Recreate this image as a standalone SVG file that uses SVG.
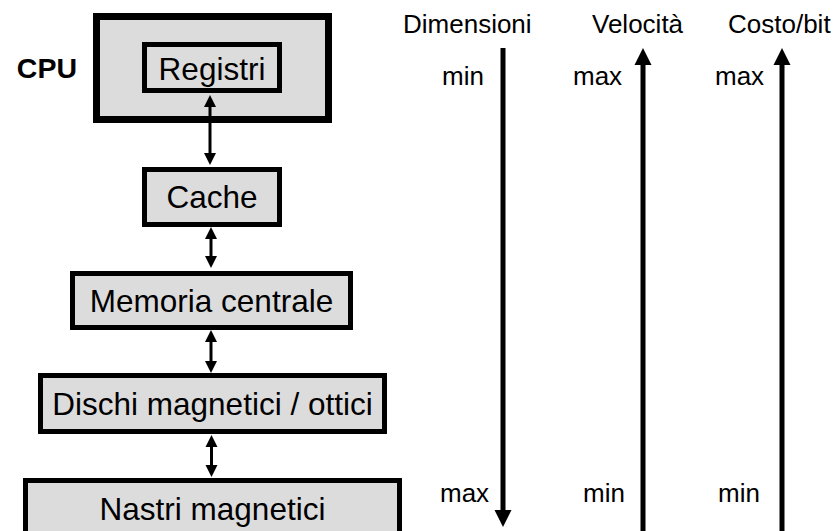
<svg xmlns="http://www.w3.org/2000/svg" width="835" height="531" viewBox="0 0 835 531">
<style>
  .box { fill: #DCDCDC; stroke: #000; stroke-width: 5; }
  .lbl { font-family: "Liberation Sans", Arial, sans-serif; font-size: 31.5px; fill: #000; text-anchor: middle; }
  .ax { font-family: "Liberation Sans", Arial, sans-serif; font-size: 26px; fill: #000; }
  .small { stroke: #000; stroke-width: 3; fill: none; }
  .big { stroke: #000; stroke-width: 5; fill: none; }
</style>
<defs>
  <marker id="hs" markerUnits="userSpaceOnUse" markerWidth="13" markerHeight="13" refX="0" refY="6" orient="auto-start-reverse" viewBox="0 0 13 12">
    <path d="M0,0 L12,6 L0,12 z" fill="#000"/>
  </marker>
  <marker id="hb" markerUnits="userSpaceOnUse" markerWidth="18" markerHeight="18" refX="0" refY="8.5" orient="auto-start-reverse" viewBox="0 0 18 17">
    <path d="M0,0 L17,8.5 L0,17 z" fill="#000"/>
  </marker>
</defs>
<rect width="835" height="531" fill="#fff"/>

<g id="cpu">
  <rect x="96.5" y="16.5" width="232" height="103" fill="#DCDCDC" stroke="#000" stroke-width="7"/>
  <text x="77" y="78" font-family="Liberation Sans, Arial, sans-serif" font-size="28.5" font-weight="bold" text-anchor="end">CPU</text>
</g>
<g id="registri">
  <rect class="box" x="144.5" y="44.5" width="135" height="46" stroke-width="4.5"/>
  <text class="lbl" x="212" y="80" font-size="33.5">Registri</text>
</g>
<g id="cache">
  <rect class="box" x="144.5" y="169.5" width="135" height="55"/>
  <text class="lbl" x="212" y="208">Cache</text>
</g>
<g id="memoria">
  <rect class="box" x="72.5" y="273.5" width="278" height="54"/>
  <text class="lbl" x="211.5" y="311.5">Memoria centrale</text>
</g>
<g id="dischi">
  <rect class="box" x="40.5" y="375.5" width="344" height="56"/>
  <text class="lbl" x="212.5" y="414.5">Dischi magnetici / ottici</text>
</g>
<g id="nastri">
  <rect class="box" x="25.5" y="480.5" width="374" height="70"/>
  <text class="lbl" x="212.5" y="519.5">Nastri magnetici</text>
</g>

<g id="connectors">
  <line class="small" x1="210" y1="107" x2="210" y2="153" marker-start="url(#hs)" marker-end="url(#hs)"/>
  <line class="small" x1="211" y1="239" x2="211" y2="256" marker-start="url(#hs)" marker-end="url(#hs)"/>
  <line class="small" x1="211" y1="342" x2="211" y2="361" marker-start="url(#hs)" marker-end="url(#hs)"/>
  <line class="small" x1="211.5" y1="447" x2="211.5" y2="465" marker-start="url(#hs)" marker-end="url(#hs)"/>
</g>

<g id="dimensioni">
  <text class="ax" x="403" y="33">Dimensioni</text>
  <line class="big" x1="503" y1="48" x2="503" y2="510" marker-end="url(#hb)"/>
  <text class="ax" x="442" y="85">min</text>
  <text class="ax" x="440" y="502">max</text>
</g>
<g id="velocita">
  <text class="ax" x="592" y="33">Velocità</text>
  <line class="big" x1="643" y1="535" x2="643" y2="65" marker-end="url(#hb)"/>
  <text class="ax" x="573" y="85">max</text>
  <text class="ax" x="583" y="502">min</text>
</g>
<g id="costo">
  <text class="ax" x="728" y="33">Costo/bit</text>
  <line class="big" x1="782" y1="535" x2="782" y2="65" marker-end="url(#hb)"/>
  <text class="ax" x="715" y="85">max</text>
  <text class="ax" x="718" y="502">min</text>
</g>
</svg>
